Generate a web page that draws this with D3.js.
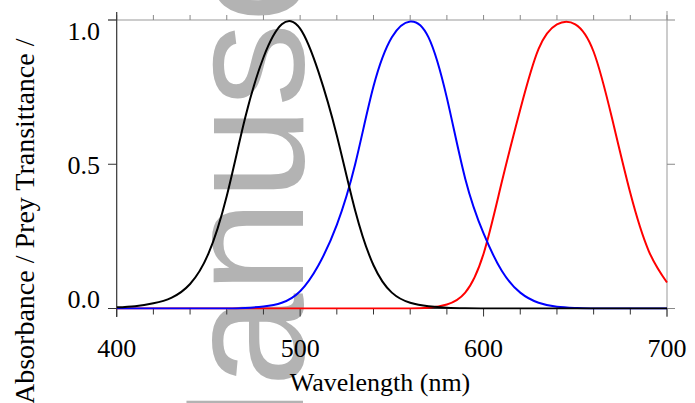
<!DOCTYPE html>
<html>
<head>
<meta charset="utf-8">
<script src="https://cdn.jsdelivr.net/npm/d3@7/dist/d3.min.js"></script>
<style>
  body { margin: 0; background: #fff; }
  svg { display: block; }
  .serif { font-family: "Liberation Serif", "Times New Roman", "DejaVu Serif", serif; }
</style>
</head>
<body>
<svg id="chart" width="695" height="403"></svg>
<script>
// wavelengths (nm) and read-off curve values
var wavelengths = [400, 410, 420, 430, 440, 450, 460, 470, 480, 490, 500, 510, 520, 530, 540, 550,
  560, 570, 580, 590, 600, 610, 620, 630, 640, 650, 660, 670, 680, 690, 700];
var blackSeries = [0.004, 0.008, 0.018, 0.038, 0.085, 0.19, 0.39, 0.66, 0.87, 0.985, 0.97, 0.82, 0.6, 0.34, 0.15, 0.055,
  0.02, 0.008, 0.003, 0.001, 0, 0, 0, 0, 0, 0, 0, 0, 0, 0, 0];
var blueSeries = [0, 0, 0, 0, 0, 0, 0, 0.002, 0.007, 0.02, 0.06, 0.15, 0.29, 0.5, 0.77, 0.94,
  0.995, 0.94, 0.73, 0.45, 0.26, 0.13, 0.055, 0.02, 0.006, 0.002, 0, 0, 0, 0, 0];
var redSeries = [0, 0, 0, 0, 0, 0, 0, 0, 0, 0, 0, 0, 0, 0, 0, 0,
  0, 0.003, 0.014, 0.055, 0.19, 0.44, 0.69, 0.9, 0.985, 0.985, 0.89, 0.66, 0.4, 0.2, 0.09];
var xTicks = [400, 500, 600, 700];
var yTicks = [0, 0.5, 1];

var svg = d3.select('#chart');

var x = d3.scaleLinear().domain([400, 700]).range([116.7, 667]);
var y = d3.scaleLinear().domain([0, 1]).range([308.5, 20]);
// tick labels sit a bit squeezed in the original
var yLab = d3.scaleLinear().domain([0, 1]).range([299, 31]);

// watermark behind everything
svg.append('text')
  .attr('transform', 'translate(303,527) rotate(-90)')
  .style('font-family', '"Liberation Sans", Arial, sans-serif')
  .attr('font-size', 168)
  .attr('fill', '#b3b3b3')
  .text('Manuscript');

// frame: grey top/right
svg.append('line').attr('x1', 108).attr('x2', 667).attr('y1', y(1)).attr('y2', y(1))
  .attr('stroke', '#999').attr('stroke-width', 1);
svg.append('line').attr('x1', 667).attr('x2', 667).attr('y1', 11).attr('y2', 317)
  .attr('stroke', '#999').attr('stroke-width', 1);

var minor = d3.range(400, 701, 20);
svg.selectAll('.tt').data(minor).enter().append('line')
  .attr('x1', d => x(d)).attr('x2', d => x(d))
  .attr('y1', y(1)).attr('y2', y(1) - 5)
  .attr('stroke', '#888');
svg.selectAll('.rt').data(yTicks).enter().append('line')
  .attr('x1', 667).attr('x2', 675)
  .attr('y1', d => y(d)).attr('y2', d => y(d))
  .attr('stroke', '#888');

// bottom axis
svg.append('line').attr('x1', 108).attr('x2', 667).attr('y1', y(0)).attr('y2', y(0))
  .attr('stroke', '#333').attr('stroke-width', 1.2);
svg.selectAll('.bt').data(minor).enter().append('line')
  .attr('x1', d => x(d)).attr('x2', d => x(d))
  .attr('y1', y(0)).attr('y2', d => y(0) + (d % 100 === 0 ? 8 : 6))
  .attr('stroke', '#333');
svg.selectAll('.xl').data(xTicks).enter().append('text')
  .attr('class', 'serif')
  .attr('x', d => x(d)).attr('y', 357)
  .attr('text-anchor', 'middle')
  .attr('font-size', 26)
  .text(d => d);

// left axis
svg.append('line').attr('x1', 116.7).attr('x2', 116.7).attr('y1', 12).attr('y2', 317)
  .attr('stroke', '#333').attr('stroke-width', 1.2);
svg.selectAll('.lt').data(yTicks).enter().append('line')
  .attr('x1', 108).attr('x2', 116.7)
  .attr('y1', d => y(d)).attr('y2', d => y(d))
  .attr('stroke', '#333');
svg.selectAll('.yl').data(yTicks).enter().append('text')
  .attr('class', 'serif')
  .attr('x', 100).attr('y', d => yLab(d))
  .attr('dy', '0.35em')
  .attr('text-anchor', 'end')
  .attr('font-size', 26)
  .text(d => d3.format('.1f')(d));

// titles
svg.append('text')
  .attr('class', 'serif')
  .attr('x', 380).attr('y', 391)
  .attr('text-anchor', 'middle')
  .attr('font-size', 26)
  .text('Wavelength (nm)');
svg.append('text')
  .attr('class', 'serif')
  .attr('transform', 'translate(34,404) rotate(-90)')
  .attr('font-size', 28)
  .text('Absorbance / Prey Transittance /');

// curves
var line = d3.line()
  .x(d => x(d[0]))
  .y(d => y(d[1]))
  .curve(d3.curveNatural);

var clip = svg.append('clipPath').attr('id', 'plot')
  .append('rect').attr('x', 116.7).attr('y', 0).attr('width', 552).attr('height', 309.5);

[[redSeries, '#ff0000'], [blueSeries, '#0000ff'], [blackSeries, '#000000']].forEach(function(s) {
  svg.append('path')
    .datum(wavelengths.map((w, i) => [w, s[0][i]]))
    .attr('d', line)
    .attr('clip-path', 'url(#plot)')
    .attr('fill', 'none')
    .attr('stroke', s[1])
    .attr('stroke-width', 2);
});
</script>
</body>
</html>
